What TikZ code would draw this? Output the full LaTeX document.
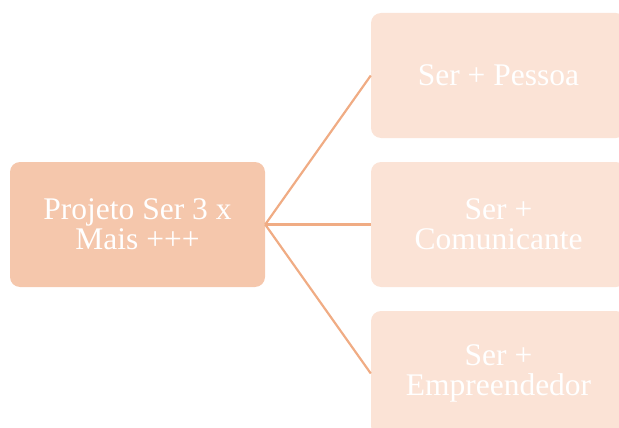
\documentclass[tikz,border=0pt]{standalone}
\usepackage{fontspec}
\setmainfont{Liberation Serif}
\usetikzlibrary{positioning}

\definecolor{rootfill}{HTML}{F5C7AC}
\definecolor{leaffill}{HTML}{FBE3D6}
\definecolor{linkcol}{HTML}{F0AC84}

\tikzset{
    box/.style={rounded corners=10pt, minimum width=255pt, minimum height=125pt,
        inner sep=0pt, align=center, text=white,
        font=\fontsize{31.5}{30}\selectfont},
    rootbox/.style={box, fill=rootfill},
    leafbox/.style={box, fill=leaffill},
    link/.style={draw=linkcol, line width=2.2pt}
}

\begin{document}
\begin{tikzpicture}[x=1pt,y=-1pt]
    \clip (0,0) rectangle (619,428);

    \node[rootbox] (root) at (137.5,224.5) {Projeto Ser 3 x\\Mais +++};

    \node[leafbox] (pessoa) at (498.5,75.5) {Ser + Pessoa};
    \node[leafbox] (comunicante) at (498.5,224.5) {Ser +\\Comunicante};
    \node[leafbox] (empreendedor) at (498.5,373.5) {Ser +\\Empreendedor};

    \foreach \x in {pessoa,comunicante,empreendedor}{
        \draw[link] (root.east) -- (\x.west);
    }

\end{tikzpicture}
\end{document}
